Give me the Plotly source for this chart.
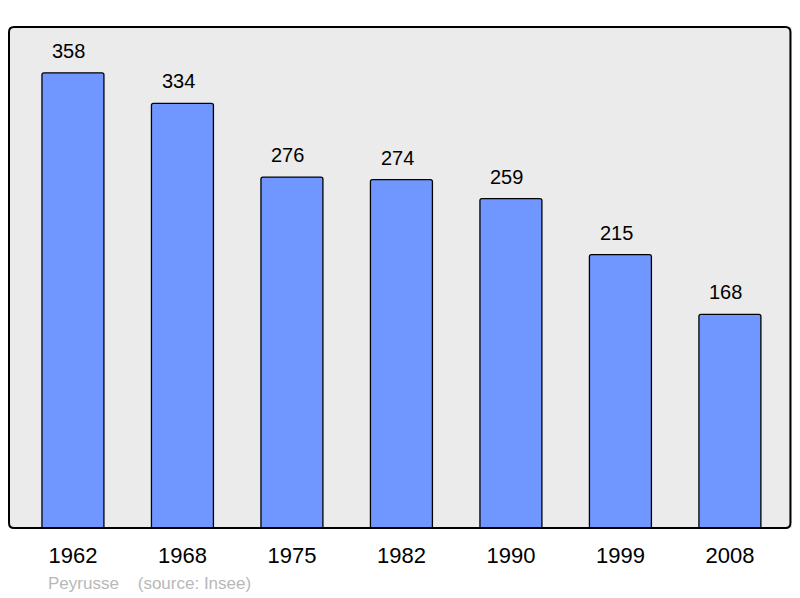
import plotly.graph_objects as go

years = ["1962", "1968", "1975", "1982", "1990", "1999", "2008"]
population = [358, 334, 276, 274, 259, 215, 168]
town = "Peyrusse"
source_note = "(source: Insee)"

fig = go.Figure()
fig.add_trace(go.Bar(
    x=years, y=population, width=0.566,
    marker=dict(color="#7097ff", line=dict(color="#000000", width=1.3), cornerradius=2),
    hoverinfo="skip",
))
for i, v in enumerate(population):
    fig.add_annotation(x=i, y=v, xref="x", yref="y", text=str(v), showarrow=False,
                       yshift=22, xshift=-4, yanchor="middle",
                       font=dict(family="Liberation Sans, Arial", size=20, color="#000"))

fig.add_annotation(xref="paper", yref="paper", x=(46-9)/783, y=-(583-528)/501,
                   xanchor="left", yanchor="middle", showarrow=False,
                   text=town + "    " + source_note,
                   font=dict(family="Liberation Sans, Arial", size=17, color="#b8b8b8"))

# rounded frame around the plot area (paper coordinates)
W, H = 783.0, 501.0
x0, x1, y0, y1 = 0.0, 0.998, 0.0, 1.0
rx, ry = 5 / W, 5 / H
path = (f"M {x0+rx},{y1} L {x1-rx},{y1} Q {x1},{y1} {x1},{y1-ry} "
        f"L {x1},{y0+ry} Q {x1},{y0} {x1-rx},{y0} L {x0+rx},{y0} "
        f"Q {x0},{y0} {x0},{y0+ry} L {x0},{y1-ry} Q {x0},{y1} {x0+rx},{y1} Z")
fig.add_shape(type="path", path=path, xref="paper", yref="paper",
              line=dict(color="#000", width=2), layer="above")

# page body has an 8px margin, so the figure is 8px smaller and offset
fig.update_layout(
    width=792, height=590,
    margin=dict(l=1, r=8, t=19, b=70),
    paper_bgcolor="#ffffff", plot_bgcolor="#ebebeb",
    showlegend=False,
    xaxis=dict(type="category", range=[-0.584, 6.567], showgrid=False, zeroline=False,
               ticks="outside", ticklen=8, tickcolor="rgba(0,0,0,0)",
               tickfont=dict(family="Liberation Sans, Arial", size=22, color="#000"),
               showline=False),
    yaxis=dict(range=[0, 394], showgrid=False, zeroline=False, showticklabels=False,
               showline=False),
)
fig.write_html("out.html")
